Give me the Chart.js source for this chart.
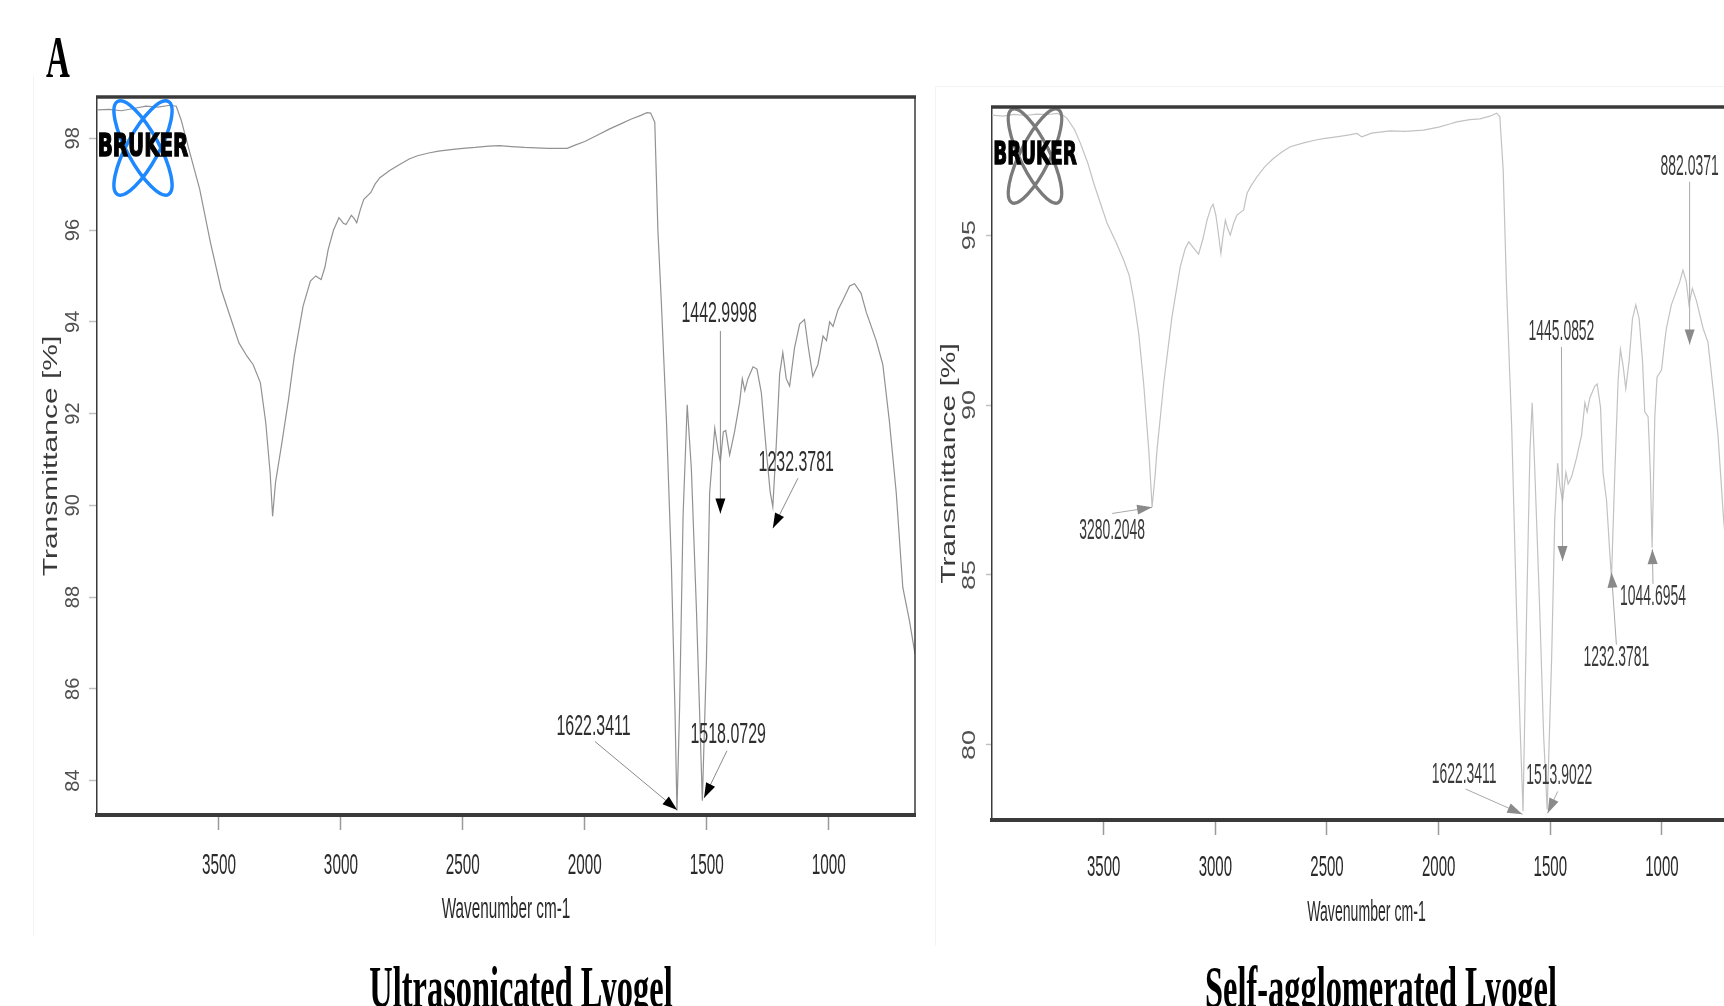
<!DOCTYPE html>
<html><head><meta charset="utf-8">
<script src="https://cdn.jsdelivr.net/npm/chart.js@4.4.1/dist/chart.umd.min.js"></script>
<style>
html,body{margin:0;padding:0;background:#fff;width:1724px;height:1006px;overflow:hidden;}
#page{position:relative;width:1724px;height:1006px;overflow:hidden;background:#fff;}
canvas{position:absolute;top:0;}
#c1{left:0;}
#c2{left:930px;}
.t{position:absolute;font-family:'Liberation Serif','Times New Roman',serif;font-weight:bold;color:#000;white-space:nowrap;line-height:1;}
.faint{position:absolute;background:#f3f3f3;}
</style></head><body>
<div id="page">
<div class="faint" style="left:33px;top:76px;width:1px;height:860px"></div>
<div class="faint" style="left:935px;top:86px;width:1px;height:860px"></div>
<div class="faint" style="left:935px;top:86px;width:789px;height:1px"></div>
<canvas id="c1" width="930" height="1006" style="width:930px;height:1006px"></canvas>
<canvas id="c2" width="830" height="1006" style="width:830px;height:1006px"></canvas>
<div class="t" style="left:46px;top:28px;font-size:59px;transform:scaleX(0.56);transform-origin:left top;">A</div>
<div class="t" style="left:521px;top:957px;font-size:60px;transform:translateX(-50%) scaleX(0.54);transform-origin:center top;">Ultrasonicated Lyogel</div>
<div class="t" style="left:1381px;top:957px;font-size:60px;transform:translateX(-50%) scaleX(0.54);transform-origin:center top;">Self-agglomerated Lyogel</div>
</div>
<script>
// ---------------- DATA ----------------
const xTickValues = [3500, 3000, 2500, 2000, 1500, 1000];
const leftYTicks = [84, 86, 88, 90, 92, 94, 96, 98];
const rightYTicks = [80, 85, 90, 95];

const ultraWavenumber = [4000,3950,3900,3850,3800,3750,3700,3675,3655,3620,3579,3535,3491,3450,3418,3385,3360,3330,3308,3290,3280,3268,3242,3215,3191,3155,3125,3103,3081,3065,3052,3030,3008,2990,2979,2968,2957,2945,2935,2920,2906,2877,2860,2840,2800,2759,2720,2686,2640,2600,2540,2500,2450,2394,2350,2300,2247,2200,2150,2100,2072,2040,2000,1955,1900,1850,1809,1770,1745,1730,1713,1700,1686,1665,1645,1630,1622,1611,1597,1580,1563,1542,1518,1501,1488,1467,1454,1444,1432,1422,1406,1385,1365,1354,1344,1331,1310,1294,1276,1256,1240,1229,1215,1201,1188,1174,1160,1140,1119,1099,1085,1065,1044,1023,1009,996,982,962,942,914,894,867,846,805,778,751,723,696,669,646];
const ultraTransmittance = [98.62,98.63,98.60,98.65,98.70,98.68,98.72,98.70,98.40,97.70,96.89,95.73,94.71,94.05,93.54,93.25,93.07,92.67,91.80,90.70,89.76,90.50,91.36,92.30,93.25,94.34,94.89,95.00,94.92,95.20,95.58,96.00,96.27,96.15,96.12,96.22,96.32,96.25,96.16,96.45,96.67,96.82,97.00,97.14,97.30,97.43,97.55,97.62,97.68,97.72,97.76,97.78,97.80,97.83,97.84,97.82,97.80,97.79,97.78,97.78,97.78,97.85,97.93,98.05,98.20,98.32,98.42,98.50,98.56,98.55,98.35,95.97,94.42,91.83,88.73,85.50,83.35,85.63,89.76,92.19,90.80,87.70,83.56,86.66,90.28,91.68,91.21,90.95,91.60,91.63,91.10,91.63,92.25,92.76,92.50,92.76,93.02,92.97,92.45,91.21,90.30,89.97,91.31,92.86,93.33,92.76,92.60,93.43,93.95,94.05,93.50,92.81,93.07,93.69,93.59,94.00,93.90,94.26,94.47,94.78,94.83,94.62,94.21,93.59,93.07,91.83,90.28,88.21,87.49,86.76];

const selfWavenumber = [4000,3950,3900,3850,3800,3750,3708,3680,3663,3630,3604,3570,3544,3510,3484,3445,3410,3385,3365,3343,3321,3298,3283,3270,3261,3231,3194,3157,3135,3119,3095,3075,3055,3037,3020,3010,2998,2990,2975,2965,2955,2945,2933,2918,2903,2873,2858,2840,2814,2780,2739,2700,2665,2600,2550,2516,2450,2400,2366,2344,2300,2217,2150,2068,2000,1950,1919,1860,1815,1770,1740,1726,1711,1696,1673,1651,1635,1622,1606,1591,1581,1569,1547,1530,1514,1494,1480,1467,1457,1445,1430,1420,1405,1383,1360,1345,1335,1323,1301,1290,1275,1264,1248,1235,1226,1211,1196,1186,1174,1162,1147,1132,1117,1102,1087,1077,1062,1052,1044,1032,1022,1002,988,980,958,935,920,906,891,879,864,846,816,794,771,749,724,700,670,646];
const selfTransmittance = [98.53,98.50,98.55,98.52,98.56,98.55,98.58,98.52,98.43,98.10,97.70,97.10,96.52,95.85,95.34,94.80,94.26,93.80,93.09,92.11,90.64,88.68,87.00,87.90,88.68,90.64,92.60,94.07,94.60,94.80,94.60,94.44,94.90,95.44,95.80,95.91,95.60,95.24,94.46,95.00,95.44,95.20,95.00,95.35,95.59,95.74,96.23,96.45,96.71,97.00,97.26,97.45,97.60,97.72,97.80,97.84,97.90,97.95,97.99,97.89,98.00,98.07,98.05,98.09,98.18,98.27,98.33,98.40,98.42,98.50,98.59,98.49,96.92,93.49,89.39,83.91,80.50,78.05,83.91,88.70,90.07,88.02,83.91,80.30,78.10,82.54,86.65,88.29,87.61,87.19,88.02,87.68,87.88,88.43,89.11,90.07,89.80,90.21,90.55,90.62,89.93,88.02,87.19,85.80,84.90,88.02,90.76,91.64,91.16,90.48,91.30,92.54,92.95,92.54,91.30,89.80,89.66,88.02,85.80,89.66,90.82,91.03,91.85,92.26,92.95,93.36,93.63,93.97,93.63,92.95,93.43,93.08,92.26,91.85,90.48,89.11,86.65,84.80,82.50,80.80];

const ultraPeakLabels = ['1442.9998', '1232.3781', '1622.3411', '1518.0729'];
const ultraPeakWavenumber = [1444, 1229, 1621, 1511];
const ultraPeakTransmittance = [89.82, 89.5, 83.36, 83.62];

const selfPeakLabels = ['3280.2048', '1445.0852', '882.0371', '1044.6954', '1232.3781', '1622.3411', '1513.9022'];
const selfPeakWavenumber = [3283, 1445, 876, 1043, 1226, 1625, 1512];
const selfPeakTransmittance = [86.99, 85.41, 91.78, 85.76, 85.07, 77.96, 77.99];

// ---------------- LAYOUT (annotation tails / label anchors in axis units) ----------------
const ultraAnnotLayout = [
  {tail: [1444, 93.8], label: [1449, 94.18]},
  {tail: [1126, 90.59], label: [1133, 90.92]},
  {tail: [1958, 84.85], label: [1964, 85.17]},
  {tail: [1417, 84.65], label: [1412, 84.99]}
];
const selfAnnotLayout = [
  {tail: [3462, 86.81], label: [3462, 86.30]},
  {tail: [1450, 91.71], label: [1450, 92.16]},
  {tail: [876, 96.57], label: [876, 97.01]},
  {tail: [1040, 84.74], label: [1040, 84.35]},
  {tail: [1204, 82.95], label: [1204, 82.57]},
  {tail: [1879, 78.7], label: [1886, 79.12]},
  {tail: [1467, 78.63], label: [1460, 79.07]}
];

// ---------------- DRAW HELPERS ----------------
function condensedText(ctx, text, x, y, font, sx, color, strokeW) {
  ctx.save();
  ctx.translate(x, y);
  ctx.scale(sx, 1);
  ctx.font = font; ctx.fillStyle = color;
  ctx.textAlign = 'center'; ctx.textBaseline = 'middle';
  ctx.fillText(text, 0, 0);
  if (strokeW) { ctx.strokeStyle = color; ctx.lineWidth = strokeW; ctx.strokeText(text, 0, 0); }
  ctx.restore();
}
function rotatedText(ctx, text, x, y, font, sy, color) {
  ctx.save();
  ctx.translate(x, y);
  ctx.rotate(-Math.PI / 2);
  ctx.scale(1, sy);
  ctx.font = font; ctx.fillStyle = color;
  ctx.textAlign = 'center'; ctx.textBaseline = 'middle';
  ctx.fillText(text, 0, 0);
  ctx.restore();
}
function drawLogo(ctx, cx, cy, color, sx) {
  ctx.save();
  ctx.translate(cx, cy);
  ctx.scale(sx, 1);
  ctx.strokeStyle = color; ctx.lineWidth = 3.5;
  [-0.5, 0.5].forEach(r => {
    ctx.beginPath(); ctx.ellipse(0, 0, 16, 53, r, 0, Math.PI * 2); ctx.stroke();
  });
  ctx.restore();
}

function makeOverlay(cfg) {
  return {
    id: 'overlay',
    afterDraw(chart) {
      const ctx = chart.ctx, a = chart.chartArea, xs = chart.scales.x, ys = chart.scales.y;
      // logo
      drawLogo(ctx, a.left + cfg.logo.dx, a.top + cfg.logo.dy, cfg.logo.color, cfg.logo.sx);
      condensedText(ctx, 'BRUKER', a.left + cfg.logo.dx, a.top + cfg.logo.dy, "bold 32px 'DejaVu Sans', 'Liberation Sans', sans-serif", cfg.logo.textSx, '#000', 1.5);
      // top & right frame
      ctx.save();
      ctx.strokeStyle = '#3a3a3a';
      ctx.lineWidth = 3.5;
      ctx.beginPath(); ctx.moveTo(a.left - 1, a.top); ctx.lineTo(a.right + 1, a.top); ctx.stroke();
      ctx.lineWidth = 1.5;
      ctx.beginPath(); ctx.moveTo(a.right, a.top); ctx.lineTo(a.right, a.bottom); ctx.stroke();
      ctx.restore();
      // x tick labels
      xs.ticks.forEach(t => {
        condensedText(ctx, String(t.value), xs.getPixelForValue(t.value), a.bottom + cfg.xTickDy, "30px 'Liberation Sans', Arial, sans-serif", cfg.xTickSx, '#2a2a2a');
      });
      // y tick labels
      ys.ticks.forEach(t => {
        rotatedText(ctx, String(t.value), a.left - cfg.yTickDx, ys.getPixelForValue(t.value), cfg.yTickFont, cfg.yTickSy, '#505050');
      });
      // axis titles
      condensedText(ctx, 'Wavenumber cm-1', (a.left + a.right) / 2, a.bottom + cfg.xTitleDy, "30px 'Liberation Sans', Arial, sans-serif", cfg.xTitleSx, '#2a2a2a');
      rotatedText(ctx, 'Transmittance [%]', a.left - cfg.yTitleDx, (a.top + a.bottom) / 2, "30px 'Liberation Sans', Arial, sans-serif", 0.7, '#3a3a3a');
      // annotations
      cfg.labels.forEach((lab, i) => {
        const tx = xs.getPixelForValue(cfg.peakX[i]), ty = ys.getPixelForValue(cfg.peakY[i]);
        const L = cfg.layout[i];
        const sx0 = xs.getPixelForValue(L.tail[0]), sy0 = ys.getPixelForValue(L.tail[1]);
        const ang = Math.atan2(ty - sy0, tx - sx0);
        ctx.save();
        ctx.strokeStyle = cfg.arrowLine; ctx.lineWidth = 1;
        ctx.beginPath(); ctx.moveTo(sx0, sy0); ctx.lineTo(tx, ty); ctx.stroke();
        ctx.translate(tx, ty); ctx.rotate(ang);
        ctx.fillStyle = cfg.arrowHead;
        ctx.beginPath(); ctx.moveTo(0, 0); ctx.lineTo(-15, -5); ctx.lineTo(-15, 5); ctx.closePath(); ctx.fill();
        ctx.restore();
        condensedText(ctx, lab, xs.getPixelForValue(L.label[0]), ys.getPixelForValue(L.label[1]), "29px 'Liberation Sans', Arial, sans-serif", cfg.labelSx, cfg.labelColor);
      });
    }
  };
}

function buildChart(id, xs, ys, lineColor, yMin, yMax, yTicks, pad, yTickLen, overlayCfg) {
  const pts = xs.map((w, i) => ({x: w, y: ys[i]}));
  return new Chart(document.getElementById(id), {
    type: 'line',
    data: {datasets: [{data: pts, borderColor: lineColor, borderWidth: 1.2, pointRadius: 0, tension: 0, fill: false}]},
    options: {
      responsive: false, animation: false, devicePixelRatio: 1,
      layout: {padding: pad},
      plugins: {legend: {display: false}, tooltip: {enabled: false}, title: {display: false}},
      scales: {
        x: {
          type: 'linear', reverse: true, min: 646, max: 4000,
          afterBuildTicks: s => { s.ticks = xTickValues.map(v => ({value: v})); },
          ticks: {display: false},
          grid: {display: true, drawOnChartArea: false, drawTicks: true, tickLength: 15, tickColor: '#9a9a9a', tickWidth: 1.5},
          border: {display: true, color: '#3a3a3a', width: 4},
          afterFit: s => { s.height = 60; }
        },
        y: {
          type: 'linear', min: yMin, max: yMax,
          afterBuildTicks: s => { s.ticks = yTicks.map(v => ({value: v})); },
          ticks: {display: false},
          grid: {display: true, drawOnChartArea: false, drawTicks: true, tickLength: yTickLen, tickColor: '#c0c0c0', tickWidth: 1.5},
          border: {display: true, color: '#3a3a3a', width: 1.5},
          afterFit: s => { s.width = 50; }
        }
      }
    },
    plugins: [makeOverlay(overlayCfg)]
  });
}

buildChart('c1', ultraWavenumber, ultraTransmittance, '#929292', 83.25, 98.9, leftYTicks,
  {left: 47, top: 97, right: 15, bottom: 131}, 8,
  {logo: {dx: 46, dy: 51, color: '#1e88ff', sx: 1, textSx: 0.62},
   xTickDy: 51, xTickSx: 0.51, xTitleDy: 95, xTitleSx: 0.51,
   yTickDx: 24, yTickFont: "20px 'Liberation Sans', Arial, sans-serif", yTickSy: 1.0, yTitleDx: 46,
   labels: ultraPeakLabels, peakX: ultraPeakWavenumber, peakY: ultraPeakTransmittance, layout: ultraAnnotLayout,
   arrowLine: '#8a8a8a', arrowHead: '#000', labelSx: 0.55, labelColor: '#2e2e2e'});

buildChart('c2', selfWavenumber, selfTransmittance, '#c2c2c2', 77.79, 98.77, rightYTicks,
  {left: 12, top: 107, right: 19, bottom: 126}, 6,
  {logo: {dx: 43, dy: 49, color: '#7a7a7a', sx: 0.92, textSx: 0.57},
   xTickDy: 48, xTickSx: 0.5, xTitleDy: 93, xTitleSx: 0.47,
   yTickDx: 22, yTickFont: "27px 'Liberation Sans', Arial, sans-serif", yTickSy: 0.65, yTitleDx: 43,
   labels: selfPeakLabels, peakX: selfPeakWavenumber, peakY: selfPeakTransmittance, layout: selfAnnotLayout,
   arrowLine: '#a8a8a8', arrowHead: '#8a8a8a', labelSx: 0.48, labelColor: '#3a3a3a'});
</script>
</body></html>
